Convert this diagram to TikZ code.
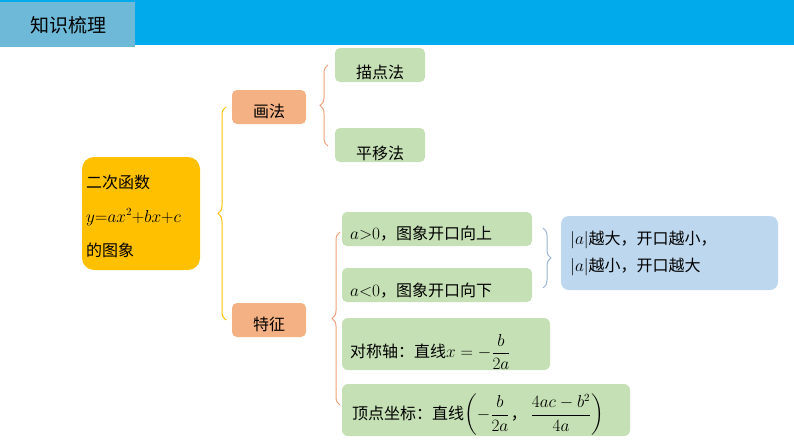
\documentclass[tikz,border=0pt]{standalone}
\usepackage{fontspec}
\usepackage{amsmath}
\newfontfamily\cjk{Noto Sans CJK SC}
\usetikzlibrary{decorations.pathreplacing}
\definecolor{hdr}{RGB}{0,170,235}
\definecolor{hdrl}{RGB}{110,185,215}
\definecolor{org}{RGB}{255,192,0}
\definecolor{sal}{RGB}{244,177,131}
\definecolor{grn}{RGB}{197,224,180}
\definecolor{blu}{RGB}{189,215,238}
\definecolor{brsal}{RGB}{240,160,120}
\definecolor{brblu}{RGB}{150,180,210}
\begin{document}
\begin{tikzpicture}[x=1pt,y=-1pt,
 bx/.style={rounded corners=6pt,inner sep=0pt,font=\cjk\fontsize{16}{19}\selectfont},
 brc/.style={decorate,decoration={brace,amplitude=8pt},line width=1pt}]
\useasboundingbox (0,0) rectangle (794,447);
\fill[hdr] (0,0) rectangle (794,45);
\fill[hdrl] (0,2) rectangle (135,47);
\node[font=\cjk\fontsize{19}{22}\selectfont] (title) at (68,25) {知识梳理};
\fill[org,rounded corners=12pt] (82,157) rectangle (200,270);
\node[bx,align=left,anchor=west,font=\cjk\fontsize{16}{34}\selectfont] (main) at (86,216) {二次函数\\$y{=}ax^2{+}bx{+}c$\\的图象};
\fill[sal,rounded corners=5pt] (232,90) rectangle (306,124);
\node[bx] (hf) at (269,111) {画法};
\fill[sal,rounded corners=5pt] (232,303) rectangle (306,337);
\node[bx] (tz) at (269,324) {特征};
\fill[grn,rounded corners=5pt] (335,48) rectangle (425,82);
\node[bx] (md) at (380,72) {描点法};
\fill[grn,rounded corners=5pt] (335,128) rectangle (425,162);
\node[bx] (py) at (380,153) {平移法};
\fill[grn,rounded corners=5pt] (342,212) rectangle (532,246);
\node[bx,anchor=west] (ag) at (350,234) {$a{>}0$，图象开口向上};
\fill[grn,rounded corners=5pt] (342,268) rectangle (532,302);
\node[bx,anchor=west] (al) at (350,291) {$a{<}0$，图象开口向下};
\fill[grn,rounded corners=6pt] (342,318) rectangle (550,370);
\node[bx,anchor=west] (dc) at (350,352) {对称轴：直线$x=-\dfrac{b}{2a}$};
\fill[grn,rounded corners=6pt] (342,384) rectangle (630,436);
\node[bx,anchor=west] (dd) at (352,415) {顶点坐标：直线$\left(-\dfrac{b}{2a}\right.$，\,$\left.\dfrac{4ac-b^2}{4a}\right)$};
\fill[blu,rounded corners=8pt] (561,216) rectangle (778,290);
\node[bx,align=left,anchor=west] (bl) at (570,253) {$|a|$越大，开口越小，\\[8pt]$|a|$越小，开口越大};
\coordinate (b1t) at (226,107); \coordinate (b1b) at (226,320);
\coordinate (b2t) at (328,65); \coordinate (b2b) at (328,146);
\coordinate (b3t) at (340,232); \coordinate (b3b) at (340,405);
\coordinate (b4t) at (543,228); \coordinate (b4b) at (543,288);
\draw[brc,org] (b1b) -- (b1t);
\draw[brc,brsal] (b2b) -- (b2t);
\draw[brc,brsal] (b3b) -- (b3t);
\draw[brc,brblu] (b4t) -- (b4b);
\end{tikzpicture}
\end{document}
